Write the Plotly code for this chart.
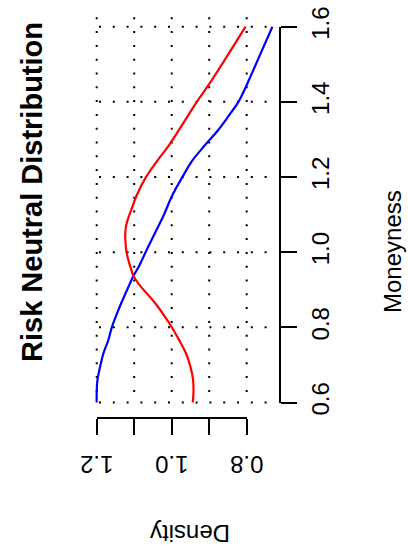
import plotly.graph_objects as go

# ---- data -------------------------------------------------------------
moneyness_blue = [0.600, 0.625, 0.660, 0.695, 0.731, 0.766, 0.799, 0.824, 0.868,
                  0.913, 0.937, 0.961, 0.997, 1.024, 1.068, 1.099, 1.152, 1.199,
                  1.241, 1.285, 1.325, 1.370, 1.400, 1.445, 1.525, 1.600]
density_blue = [1.200, 1.200, 1.198, 1.191, 1.182, 1.169, 1.160, 1.151, 1.133,
                1.113, 1.102, 1.088, 1.071, 1.058, 1.036, 1.021, 0.998, 0.972,
                0.947, 0.911, 0.876, 0.843, 0.822, 0.800, 0.7645, 0.7315]

moneyness_red = [0.600, 0.625, 0.660, 0.695, 0.731, 0.766, 0.799, 0.824, 0.868,
                 0.913, 0.937, 0.961, 0.997, 1.024, 1.045, 1.068, 1.099, 1.112,
                 1.152, 1.199, 1.241, 1.285, 1.400, 1.458, 1.525, 1.600]
density_red = [0.944, 0.942, 0.943, 0.950, 0.962, 0.980, 0.999, 1.015, 1.047,
               1.086, 1.102, 1.110, 1.120, 1.123, 1.124, 1.122, 1.113, 1.108,
               1.093, 1.069, 1.040, 1.007, 0.933, 0.893, 0.850, 0.803]

moneyness_ticks = [0.6, 0.8, 1.0, 1.2, 1.4, 1.6]
moneyness_labels = ["0.6", "0.8", "1.0", "1.2", "1.4", "1.6"]
density_ticks = [0.8, 0.9, 1.0, 1.1, 1.2]
density_label_vals = [0.8, 1.0, 1.2]
density_labels = ["0.8", "1.0", "1.2"]

grid_density = [1.2, 1.1, 1.0, 0.9, 0.8]
grid_moneyness = [0.6, 0.8, 1.0, 1.2, 1.4, 1.6]

# ---- geometry (page is drawn turned a quarter turn) -------------------
W, H = 408, 555
PX_D = 375.0          # pixels per unit of density (horizontal, reversed)
PX_M = 375.8          # pixels per unit of moneyness (vertical)
X_D12 = 96.7          # pixel column of density 1.2
Y_M06 = 402.5         # pixel row of moneyness 0.6


def d_at(px):
    return 1.2 - (px - X_D12) / PX_D


def m_at(py):
    return 0.6 + (Y_M06 - py) / PX_M


x_range = [d_at(0), d_at(W)]
y_range = [m_at(H), m_at(0)]

FONT = "Liberation Sans, Arial, Helvetica, sans-serif"
DOTS = "2px,11.8px"

fig = go.Figure()

# dotted grid
grid_top = m_at(17.3)
grid_left = d_at(99)
grid_right = d_at(267)
for d in grid_density:
    fig.add_trace(go.Scatter(x=[d, d], y=[grid_top, 0.6], mode="lines",
                             line=dict(color="black", width=2, dash=DOTS),
                             hoverinfo="skip", showlegend=False))
for m in grid_moneyness:
    fig.add_trace(go.Scatter(x=[grid_left, grid_right], y=[m, m], mode="lines",
                             line=dict(color="black", width=2, dash=DOTS),
                             hoverinfo="skip", showlegend=False))

# curves
fig.add_trace(go.Scatter(x=density_blue, y=moneyness_blue, mode="lines",
                         line=dict(color="#0000FF", width=2.2, shape="spline", smoothing=1.1),
                         showlegend=False))
fig.add_trace(go.Scatter(x=density_red, y=moneyness_red, mode="lines",
                         line=dict(color="#FF0000", width=2.2, shape="spline", smoothing=1.1),
                         showlegend=False))

# carrier trace for the axis-only subplot
fig.add_trace(go.Scatter(x=[1.0], y=[1.0], xaxis="x2", yaxis="y2", mode="markers",
                         marker=dict(opacity=0), hoverinfo="skip", showlegend=False))

annotations = [
    dict(text="<b>Risk Neutral Distribution</b>", textangle=-90,
         x=32 / W, y=1 - 192 / H, xref="paper", yref="paper",
         xanchor="center", yanchor="middle", showarrow=False,
         font=dict(size=29, family=FONT)),
    dict(text="Moneyness", textangle=-90,
         x=392 / W, y=1 - 252 / H, xref="paper", yref="paper",
         xanchor="center", yanchor="middle", showarrow=False,
         font=dict(size=24, family=FONT)),
    dict(text="Density", textangle=180,
         x=190.5 / W, y=1 - 534 / H, xref="paper", yref="paper",
         xanchor="center", yanchor="middle", showarrow=False,
         font=dict(size=24, family=FONT)),
]
# upside-down density tick labels, placed on the density axis scale
for v, t in zip(density_label_vals, density_labels):
    annotations.append(dict(text=t, textangle=180, x=v, xref="x2",
                            y=1 - 465 / H, yref="paper",
                            xanchor="center", yanchor="middle", showarrow=False,
                            font=dict(size=24, family=FONT)))

fig.update_layout(
    width=W, height=H,
    margin=dict(l=0, r=0, t=0, b=0, pad=0, autoexpand=False),
    paper_bgcolor="white", plot_bgcolor="rgba(0,0,0,0)",
    font=dict(family=FONT, color="black"),
    xaxis=dict(domain=[0, 1], range=x_range, visible=False, fixedrange=True,
               automargin=False),
    yaxis=dict(domain=[0, 1], range=y_range, visible=False, fixedrange=True,
               automargin=False),
    xaxis2=dict(domain=[X_D12 / W, (X_D12 + 0.4 * PX_D) / W], range=[1.2, 0.8],
                anchor="free", position=(H - 418) / H, side="bottom",
                showline=True, linewidth=2, linecolor="black",
                ticks="outside", ticklen=16, tickwidth=2, tickcolor="black",
                tickvals=density_ticks, showticklabels=False,
                showgrid=False, zeroline=False, fixedrange=True, automargin=False),
    yaxis2=dict(domain=[(H - Y_M06) / H, (H - Y_M06 + 1.0 * PX_M) / H], range=[0.6, 1.6],
                anchor="free", position=280 / W, side="right",
                showline=True, linewidth=2, linecolor="black",
                ticks="outside", ticklen=16, tickwidth=2, tickcolor="black",
                tickvals=moneyness_ticks, ticktext=moneyness_labels,
                tickangle=-90, tickfont=dict(size=24, family=FONT),
                ticklabelstandoff=3,
                showgrid=False, zeroline=False, fixedrange=True, automargin=False),
    annotations=annotations,
)

fig.write_html("out.html")
